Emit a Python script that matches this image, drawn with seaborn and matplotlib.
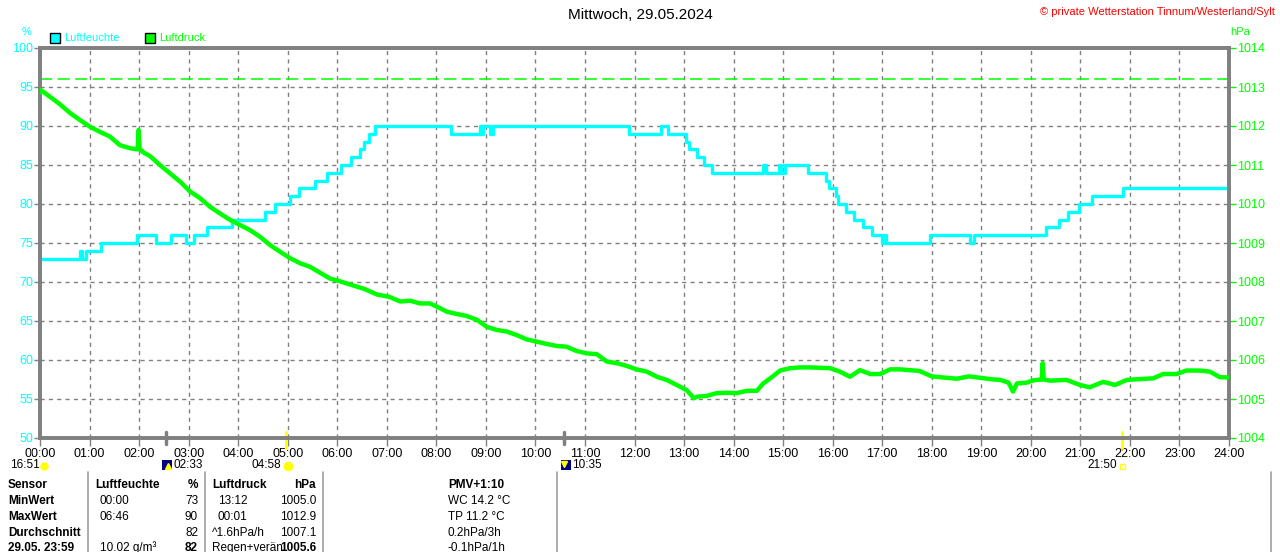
import matplotlib
matplotlib.use("Agg")
import matplotlib.pyplot as plt
import seaborn as sns
from matplotlib.lines import Line2D
from matplotlib.patches import Rectangle

# humidity (%), step changes: time in hours, value holds until next time
hum_time = [0.00, 0.81, 0.84, 0.93, 1.23, 1.95, 2.35, 2.64, 2.94, 3.11, 3.38, 3.88,
            4.55, 4.75, 5.05, 5.22, 5.56, 5.79, 6.07, 6.28, 6.46, 6.54, 6.65, 6.77,
            8.29, 8.88, 8.92, 8.95, 9.09, 9.15, 11.89, 12.54, 12.67, 13.04, 13.11,
            13.27, 13.41, 13.57, 14.59, 14.65, 14.92, 14.95, 15.03, 15.50, 15.86,
            15.93, 16.06, 16.10, 16.26, 16.44, 16.62, 16.80, 17.00, 17.04, 17.07,
            17.96, 18.78, 18.86, 20.31, 20.56, 20.76, 20.98, 21.24, 21.87, 24.00]
hum_val = [73, 74, 73, 74, 75, 76, 75, 76, 75, 76, 77, 78,
           79, 80, 81, 82, 83, 84, 85, 86, 87, 88, 89, 90,
           89, 90, 89, 90, 89, 90, 89, 90, 89, 88, 87,
           86, 85, 84, 85, 84, 85, 84, 85, 84, 83,
           82, 81, 80, 79, 78, 77, 76, 75, 76, 75,
           76, 75, 76, 77, 78, 79, 80, 81, 82, 82]

# air pressure (hPa)
pres_time = [0.00, 0.02, 0.20, 0.40, 0.61, 0.81, 1.01, 1.21, 1.41, 1.61, 1.82, 1.97,
             1.99, 2.01, 2.09, 2.22, 2.42, 2.62, 2.83, 3.03, 3.23, 3.43, 3.63, 3.84,
             4.04, 4.24, 4.44, 4.64, 4.84, 5.05, 5.25, 5.45, 5.65, 5.85, 6.05, 6.30,
             6.55, 6.80, 7.05, 7.27, 7.47, 7.67, 7.87, 8.01, 8.21, 8.41, 8.61, 8.82,
             9.02, 9.22, 9.42, 9.62, 9.82, 10.03, 10.23, 10.43, 10.63, 10.83, 11.04,
             11.24, 11.44, 11.64, 11.84, 12.04, 12.25, 12.45, 12.65, 12.85, 13.05,
             13.20, 13.26, 13.46, 13.66, 13.86, 14.06, 14.27, 14.47, 14.60, 14.74,
             14.94, 15.14, 15.34, 15.54, 15.74, 15.95, 16.15, 16.35, 16.55, 16.76,
             16.96, 17.16, 17.36, 17.55, 17.75, 18.00, 18.25, 18.50, 18.75, 19.00,
             19.25, 19.38, 19.55, 19.64, 19.72, 19.92, 20.05, 20.22, 20.24, 20.26,
             20.39, 20.72, 20.99, 21.19, 21.46, 21.70, 21.94, 22.20, 22.47, 22.67,
             22.94, 23.14, 23.41, 23.62, 23.81, 24.00]
pres_val = [1012.86, 1012.92, 1012.75, 1012.56, 1012.33, 1012.15, 1011.98, 1011.85,
            1011.73, 1011.51, 1011.43, 1011.40, 1011.90, 1011.42, 1011.32, 1011.23,
            1011.00, 1010.79, 1010.57, 1010.32, 1010.15, 1009.93, 1009.76, 1009.59,
            1009.46, 1009.33, 1009.16, 1008.95, 1008.78, 1008.61, 1008.48, 1008.39,
            1008.24, 1008.09, 1008.02, 1007.92, 1007.82, 1007.68, 1007.62, 1007.50,
            1007.52, 1007.45, 1007.45, 1007.37, 1007.24, 1007.18, 1007.13, 1007.03,
            1006.85, 1006.77, 1006.73, 1006.64, 1006.53, 1006.47, 1006.41, 1006.36,
            1006.34, 1006.23, 1006.17, 1006.15, 1005.96, 1005.92, 1005.85, 1005.76,
            1005.70, 1005.57, 1005.49, 1005.36, 1005.23, 1005.02, 1005.06, 1005.08,
            1005.15, 1005.16, 1005.15, 1005.21, 1005.21, 1005.40, 1005.53, 1005.73,
            1005.79, 1005.81, 1005.81, 1005.80, 1005.79, 1005.70, 1005.57, 1005.74,
            1005.64, 1005.64, 1005.76, 1005.76, 1005.74, 1005.72, 1005.58, 1005.55,
            1005.52, 1005.58, 1005.54, 1005.50, 1005.49, 1005.42, 1005.19, 1005.40,
            1005.42, 1005.48, 1005.50, 1005.92, 1005.50, 1005.47, 1005.49, 1005.36,
            1005.30, 1005.44, 1005.36, 1005.49, 1005.51, 1005.53, 1005.64, 1005.64,
            1005.73, 1005.73, 1005.70, 1005.56, 1005.55]
pres_ref = 1013.2

hour_labels = [f"{h:02d}:00" for h in range(25)]
hum_ticks = list(range(50, 101, 5))
pres_ticks = list(range(1004, 1015))

moon_times = [2.55, 10.583]
sun_times = [4.967, 21.833]

table_rows = [
    ["Sensor", "Luftfeuchte", "%", "Luftdruck", "hPa", "PMV+1:10"],
    ["MinWert", "00:00", "73", "13:12", "1005.0", "WC 14.2 °C"],
    ["MaxWert", "06:46", "90", "00:01", "1012.9", "TP 11.2 °C"],
    ["Durchschnitt", "", "82", "^1.6hPa/h", "1007.1", "0.2hPa/3h"],
    ["29.05. 23:59", "10.02 g/m³", "82", "Regen+verän", "1005.6", "-0.1hPa/1h"],
]

CYAN = "#00ffff"
GREEN = "#00ff00"
GRAY = "#808080"

sns.set_theme(style="white")
plt.rcParams["font.family"] = ["Liberation Sans", "DejaVu Sans"]

W, H = 1280, 552
fig = plt.figure(figsize=(W / 100, H / 100), dpi=100)
fig.patch.set_facecolor("white")


def px(x, y):
    return x / W, 1 - y / H


ax = fig.add_axes([40 / W, 1 - 438 / H, (1229 - 40) / W, 390 / H])
ax2 = ax.twinx()

sns.lineplot(x=hum_time, y=hum_val, ax=ax, color=CYAN, linewidth=2.4,
             drawstyle="steps-post", zorder=3)
sns.lineplot(x=pres_time, y=pres_val, ax=ax2, color=GREEN, linewidth=3.2, zorder=3)
ax2.axhline(pres_ref, color=GREEN, linewidth=1.1, linestyle=(0, (8, 3.5)))

ax.set_xlim(0, 24)
ax.set_ylim(50, 100)
ax2.set_ylim(1004, 1014)
ax.set_xticks(range(25))
ax.set_xticklabels(hour_labels)
ax.set_yticks(hum_ticks)
ax2.set_yticks(pres_ticks)
ax.set_xlabel("")
ax.set_ylabel("")
ax2.set_ylabel("")

ax.grid(True, color=GRAY, linestyle=(0, (3, 3)), linewidth=1)
ax2.grid(False)
for a in (ax, ax2):
    for s in a.spines.values():
        s.set_color(GRAY)
        s.set_linewidth(2.6)

ax.tick_params(axis="x", colors="black", labelsize=9, length=6, width=1,
               color=GRAY, pad=1, direction="out", bottom=True)
ax.tick_params(axis="y", labelcolor=CYAN, labelsize=9, length=4, width=1,
               color=GRAY, pad=1, left=True)
ax2.tick_params(axis="y", labelcolor=GREEN, labelsize=9, length=5, width=1,
                color=GREEN, pad=1, right=True)

# moon and sun markers on the time axis
xt = ax.get_xaxis_transform()
for t in moon_times:
    ax.plot([t, t], [0.016, -0.016], color=GRAY, lw=2.5, transform=xt, clip_on=False)
for t in sun_times:
    ax.plot([t, t], [0.016, -0.026], color="#ffff00", lw=2, transform=xt, clip_on=False)

# titles and labels
fig.text(*px(640, 15), "Mittwoch, 29.05.2024", ha="center", va="center",
         fontsize=11, color="black")
fig.text(*px(1275, 12), "© private Wetterstation Tinnum/Westerland/Sylt", ha="right",
         va="center", fontsize=8, color="#ff0000")
fig.text(*px(27, 32), "%", ha="center", va="center", fontsize=8, color=CYAN)
fig.text(*px(1230, 32), "hPa", ha="left", va="center", fontsize=8, color=GREEN)

# legend
fig.add_artist(Rectangle(px(50, 43), 10 / W, 10 / H, facecolor=CYAN,
                         edgecolor="black", lw=1, transform=fig.transFigure))
fig.text(*px(64, 38), "Luftfeuchte", ha="left", va="center", fontsize=8, color=CYAN)
fig.add_artist(Rectangle(px(145, 43), 10 / W, 10 / H, facecolor=GREEN,
                         edgecolor="black", lw=1, transform=fig.transFigure))
fig.text(*px(159, 38), "Luftdruck", ha="left", va="center", fontsize=8, color=GREEN)

# rise / set times row
row_y = 465
fs_row = 8.5
fig.text(*px(10, row_y), "16:51", ha="left", va="center", fontsize=fs_row, color="black")
fig.add_artist(Line2D([44 / W], [1 - 466 / H], marker="o", markersize=5,
                      color="#ffff00", transform=fig.transFigure))
fig.add_artist(Rectangle(px(162, 470), 10 / W, 10 / H, facecolor="#000080",
                         edgecolor="none", transform=fig.transFigure))
fig.add_artist(Line2D([168 / W], [1 - 466 / H], marker="^", markersize=4,
                      color="#ffff00", transform=fig.transFigure))
fig.text(*px(173, row_y), "02:33", ha="left", va="center", fontsize=fs_row, color="black")
fig.text(*px(281, row_y), "04:58", ha="right", va="center", fontsize=fs_row, color="black")
fig.add_artist(Line2D([288 / W], [1 - 466 / H], marker="o", markersize=6,
                      color="#ffff00", transform=fig.transFigure))
fig.add_artist(Rectangle(px(561, 470), 10 / W, 10 / H, facecolor="#000080",
                         edgecolor="none", transform=fig.transFigure))
fig.add_artist(Line2D([564 / W], [1 - 464 / H], marker="v", markersize=4,
                      color="#ffff00", transform=fig.transFigure))
fig.text(*px(572, row_y), "10:35", ha="left", va="center", fontsize=fs_row, color="black")
fig.text(*px(1117, row_y), "21:50", ha="right", va="center", fontsize=fs_row, color="black")
fig.add_artist(Rectangle(px(1120, 469), 5 / W, 5 / H, facecolor="none",
                         edgecolor="#ffff00", lw=1, transform=fig.transFigure))

# table separators
for sx in [88, 205, 323, 557, 1271]:
    fig.add_artist(Line2D([sx / W, sx / W], [1 - 472 / H, 0], color="#a0a0a0",
                          lw=1.2, transform=fig.transFigure))

# table text
fs_tab = 8.5
row_ys = [485, 501, 517, 533, 548]
for i, (row, ry) in enumerate(zip(table_rows, row_ys)):
    head = i == 0
    fig.text(*px(8, ry), row[0], ha="left", va="center", fontsize=fs_tab,
             fontweight="bold", color="black")
    fig.text(*px(95 if head else 100, ry), row[1], ha="left", va="center",
             fontsize=fs_tab, fontweight="bold" if head else "normal", color="black")
    fig.text(*px(198, ry), row[2], ha="right", va="center", fontsize=fs_tab,
             fontweight="bold" if head or i == 4 else "normal", color="black")
    fig.text(*px(212 if head or i >= 3 else 218, ry), row[3], ha="left", va="center",
             fontsize=fs_tab, fontweight="bold" if head else "normal", color="black")
    fig.text(*px(316, ry), row[4], ha="right", va="center", fontsize=fs_tab,
             fontweight="bold" if head or i == 4 else "normal", color="black")
    fig.text(*px(448, ry), row[5], ha="left", va="center", fontsize=fs_tab,
             fontweight="bold" if head else "normal", color="black")

fig.savefig("out.png", dpi=100, facecolor="white")
